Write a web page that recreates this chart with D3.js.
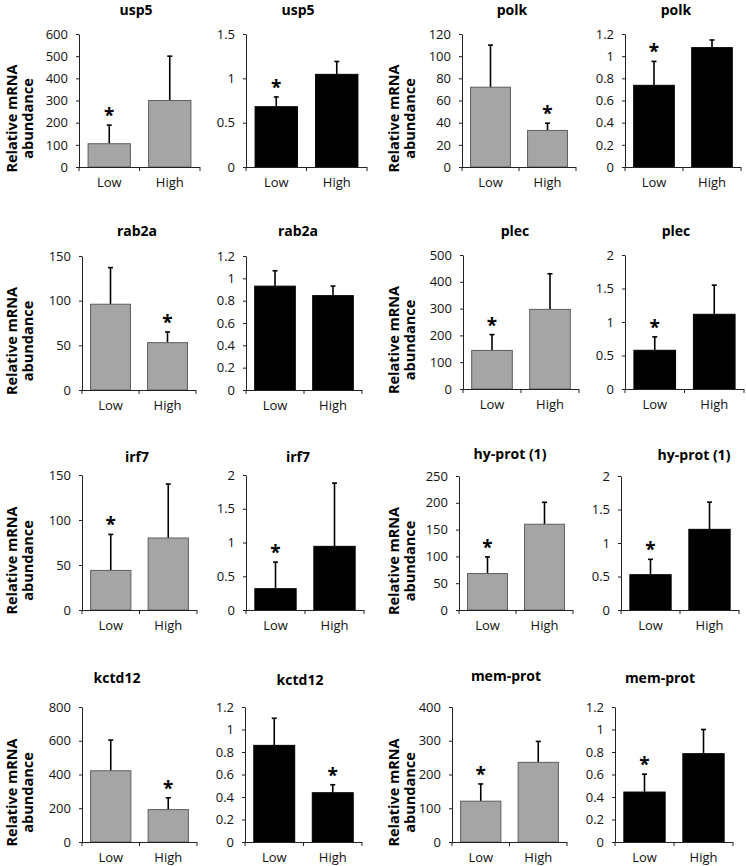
<!DOCTYPE html>
<html>
<head>
<meta charset="utf-8">
<script src="https://cdn.jsdelivr.net/npm/d3@7"></script>
<style>
  html, body { margin: 0; padding: 0; background: #fff; }
  svg { display: block; font-family: "Open Sans", "DejaVu Sans", sans-serif; }
</style>
</head>
<body>
<svg id="chart" width="746" height="866"></svg>
<script>
// ---------------- DATA ----------------
const genes = ["usp5", "polk", "rab2a", "plec", "irf7", "hy-prot (1)", "kctd12", "mem-prot"];
const categories = ["Low", "High"];

// gray (left) panels: means and upper error
const grayMeans  = [[105, 300], [72, 33], [96, 53], [144, 297], [44, 80], [68, 160], [422, 192], [121, 236]];
const grayErrors = [[84, 200], [38, 6.5], [41, 12], [59, 133], [40, 60], [31, 41], [182, 70], [51, 62]];
const grayYMax   = [600, 120, 150, 500, 150, 250, 800, 400];
const grayYStep  = [100, 20, 50, 100, 50, 50, 200, 100];
const grayStar   = ["Low", "High", "High", "Low", "Low", "Low", "High", "Low"];

// black (right) panels
const blackMeans  = [[0.68, 1.045], [0.737, 1.077], [0.93, 0.845], [0.578, 1.115], [0.316, 0.943], [0.527, 1.204], [0.859, 0.438], [0.444, 0.785]];
const blackErrors = [[0.11, 0.145], [0.216, 0.069], [0.138, 0.086], [0.2, 0.435], [0.394, 0.937], [0.229, 0.406], [0.241, 0.071], [0.159, 0.215]];
const blackYMax   = [1.5, 1.2, 1.2, 2, 2, 2, 1.2, 1.2];
const blackYStep  = [0.5, 0.2, 0.2, 0.5, 0.5, 0.5, 0.2, 0.2];
const blackStar   = ["Low", "Low", null, "Low", "Low", "Low", "High", "Low"];

const yLabelLines = ["Relative mRNA", "abundance"];

// ---------------- LAYOUT (pixel geometry, per panel) ----------------
const layout = [
  [{x0: 79, x1: 200, top: 34, bottom: 167, tx: 136, ty: 10},   {x0: 246, x1: 367, top: 34, bottom: 167, tx: 298, ty: 10}],
  [{x0: 462, x1: 576, top: 34, bottom: 167, tx: 512, ty: 10},  {x0: 625, x1: 741, top: 34, bottom: 167, tx: 676, ty: 10}],
  [{x0: 82, x1: 196, top: 256, bottom: 390, tx: 137, ty: 231}, {x0: 246, x1: 362, top: 256, bottom: 390, tx: 298, ty: 231}],
  [{x0: 463, x1: 579, top: 255, bottom: 389, tx: 515, ty: 231}, {x0: 625, x1: 744, top: 255, bottom: 389, tx: 676, ty: 231}],
  [{x0: 82, x1: 197, top: 475, bottom: 610, tx: 137, ty: 457}, {x0: 246, x1: 364, top: 475, bottom: 610, tx: 298, ty: 457}],
  [{x0: 459, x1: 573, top: 476, bottom: 610, tx: 510, ty: 454}, {x0: 621, x1: 739, top: 476, bottom: 610, tx: 694, ty: 455}],
  [{x0: 82, x1: 197, top: 707, bottom: 842, tx: 117, ty: 678}, {x0: 245, x1: 362, top: 707, bottom: 842, tx: 300, ty: 680}],
  [{x0: 452, x1: 567, top: 707, bottom: 842, tx: 506, ty: 676}, {x0: 615, x1: 733, top: 707, bottom: 842, tx: 660, ty: 678}]
];
const yLabelX = [[12, 28], [394, 410]];

const svg = d3.select("#chart");
const fmt = v => String(+v.toFixed(2));

function drawPanel(g, L, means, errors, yMax, yStep, star, fill, stroke, title) {
  const x = d3.scaleBand().domain(categories).range([L.x0, L.x1]).paddingInner(0.3).paddingOuter(0.15);
  const y = d3.scaleLinear().domain([0, yMax]).range([L.bottom, L.top]);
  const ticks = d3.range(0, yMax + yStep / 2, yStep);

  g.append("text")
    .attr("x", L.tx).attr("y", L.ty + 5)
    .attr("text-anchor", "middle")
    .attr("font-weight", "bold").attr("font-size", 14)
    .attr("fill", "#000")
    .text(title);

  const rows = categories.map((c, i) => ({c, m: means[i], e: errors[i]}));
  const eb = g.append("g").attr("stroke", "#000").attr("stroke-width", 1.6);
  rows.forEach(r => {
    const cx = x(r.c) + x.bandwidth() / 2;
    eb.append("line").attr("x1", cx).attr("x2", cx).attr("y1", y(r.m)).attr("y2", y(r.m + r.e));
    eb.append("line").attr("x1", cx - 2.5).attr("x2", cx + 2.5).attr("y1", y(r.m + r.e)).attr("y2", y(r.m + r.e));
  });
  g.selectAll(null).data(rows).enter().append("rect")
    .attr("x", d => x(d.c))
    .attr("width", x.bandwidth())
    .attr("y", d => y(d.m))
    .attr("height", d => y(0) - y(d.m))
    .attr("fill", fill)
    .attr("stroke", stroke)
    .attr("stroke-width", 1);

  if (star) {
    const r = rows.find(d => d.c === star);
    const cx = x(r.c) + x.bandwidth() / 2;
    g.append("text")
      .attr("x", cx).attr("y", y(r.m + r.e) - 3)
      .attr("text-anchor", "middle")
      .attr("font-size", 19).attr("font-weight", "bold")
      .text("*");
  }

  const ya = g.append("g").attr("transform", `translate(${L.x0},0)`)
    .call(d3.axisLeft(y).tickValues(ticks).tickFormat(fmt).tickSize(3).tickSizeOuter(0).tickPadding(8));
  ya.select(".domain").attr("stroke", "#222");
  ya.selectAll(".tick line").attr("stroke", "#222");
  ya.selectAll("text").attr("font-family", "Open Sans, sans-serif").attr("font-size", 13).attr("fill", "#111");

  const xa = g.append("g");
  xa.append("line").attr("x1", L.x0).attr("x2", L.x1).attr("y1", L.bottom + 0.5).attr("y2", L.bottom + 0.5).attr("stroke", "#222");
  const edges = [L.x0, L.x0 + (L.x1 - L.x0) / 2, L.x1];
  edges.forEach(ex => {
    xa.append("line").attr("x1", ex).attr("x2", ex).attr("y1", L.bottom).attr("y2", L.bottom + 4).attr("stroke", "#222");
  });
  categories.forEach(c => {
    xa.append("text")
      .attr("x", x(c) + x.bandwidth() / 2).attr("y", L.bottom + 20)
      .attr("text-anchor", "middle").attr("font-size", 13).attr("fill", "#111")
      .text(c);
  });
}

genes.forEach((gene, i) => {
  const [Lg, Lb] = layout[i];
  drawPanel(svg.append("g"), Lg, grayMeans[i], grayErrors[i], grayYMax[i], grayYStep[i], grayStar[i], "#a5a5a5", "#5e5e5e", gene);
  drawPanel(svg.append("g"), Lb, blackMeans[i], blackErrors[i], blackYMax[i], blackYStep[i], blackStar[i], "#000", "#000", gene);

  const lx = yLabelX[i % 2];
  const cy = (Lg.top + Lg.bottom) / 2 + 18;
  yLabelLines.forEach((line, k) => {
    svg.append("text")
      .attr("transform", `translate(${lx[k] + 5},${cy}) rotate(-90)`)
      .attr("text-anchor", "middle")
      .attr("font-weight", "bold").attr("font-size", 14.5)
      .attr("fill", "#000")
      .text(line);
  });
});
</script>
</body>
</html>
